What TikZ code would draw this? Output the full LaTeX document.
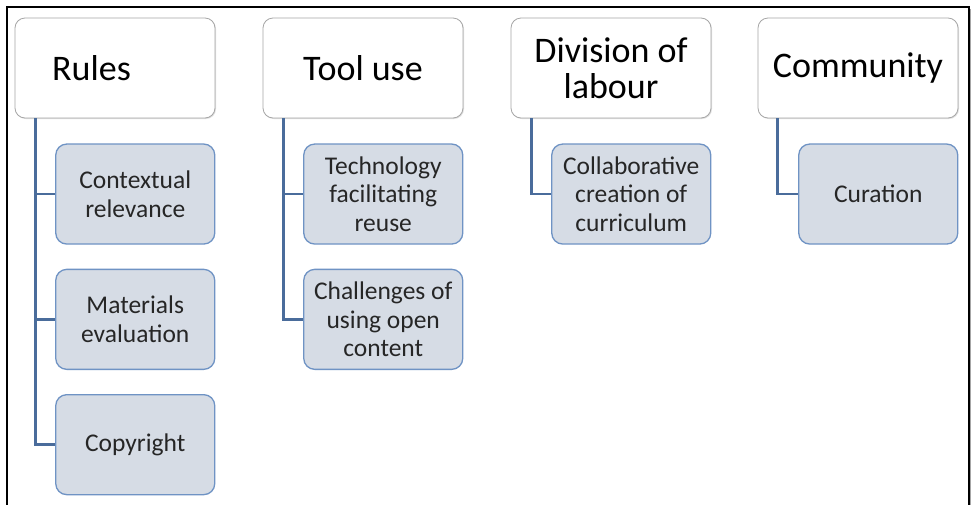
\documentclass[tikz,border=0pt]{standalone}
\usepackage{fontspec}
\setmainfont{Carlito}
\usetikzlibrary{positioning,shadows}
\definecolor{subfill}{HTML}{D6DCE5}
\definecolor{subline}{HTML}{6F93C4}
\definecolor{linkblue}{HTML}{4A6C9B}
\tikzset{
	head/.style={draw=black!35, line width=0.8pt, fill=white, rounded corners=10pt,
		minimum width=200pt, minimum height=100pt, align=center, inner sep=2pt,
		font=\fontsize{36}{35.5}\selectfont,
		drop shadow={shadow xshift=1pt, shadow yshift=-1pt, opacity=0.25}},
	sub/.style={draw=subline, line width=1.3pt, fill=subfill, rounded corners=11pt,
		minimum width=159pt, minimum height=100pt, align=center, inner sep=2pt,
		text=black!85, font=\fontsize{25.5}{28.5}\selectfont},
	link/.style={draw=linkblue, line width=2.5pt}
}
\begin{document}
\begin{tikzpicture}[x=1pt,y=-1pt]
			\useasboundingbox (0,0) rectangle (974,504);
			\fill[black!35] (9,9) rectangle (971,520);
			\draw[line width=2pt, fill=white] (7,7) rectangle (969,520);
			% headers
			\node[head] (rules) at (115,68) {Rules\hspace*{47pt}};
			\node[head] (tool) at (363,68) {Tool use};
			\node[head] (division) at (611,68) {Division of\\labour};
			\node[head] (community) at (858,68) {Community};
			% sub topics
			\node[sub, below=25pt of rules.south east, anchor=north east] (rules1) {Contextual\\relevance};
			\node[sub, below=24pt of rules1] (rules2) {Materials\\evaluation};
			\node[sub, below=24pt of rules2] (rules3) {Copyright};
			\node[sub, below=25pt of tool.south east, anchor=north east] (tool1) {Technology\\facilitating\\reuse};
			\node[sub, below=24pt of tool1] (tool2) {Challenges of\\using open\\content};
			\node[sub, below=25pt of division.south east, anchor=north east] (division1) {Collaborative\\creation of\\curriculum};
			\node[sub, below=25pt of community.south east, anchor=north east] (community1) {Curation};
			% connectors
			\foreach \c in {rules1,rules2,rules3} \draw[link] ([xshift=21pt]rules.south west) |- (\c.west);
			\foreach \c in {tool1,tool2} \draw[link] ([xshift=21pt]tool.south west) |- (\c.west);
			\draw[link] ([xshift=21pt]division.south west) |- (division1.west);
			\draw[link] ([xshift=20pt]community.south west) |- (community1.west);
\end{tikzpicture}
\end{document}
